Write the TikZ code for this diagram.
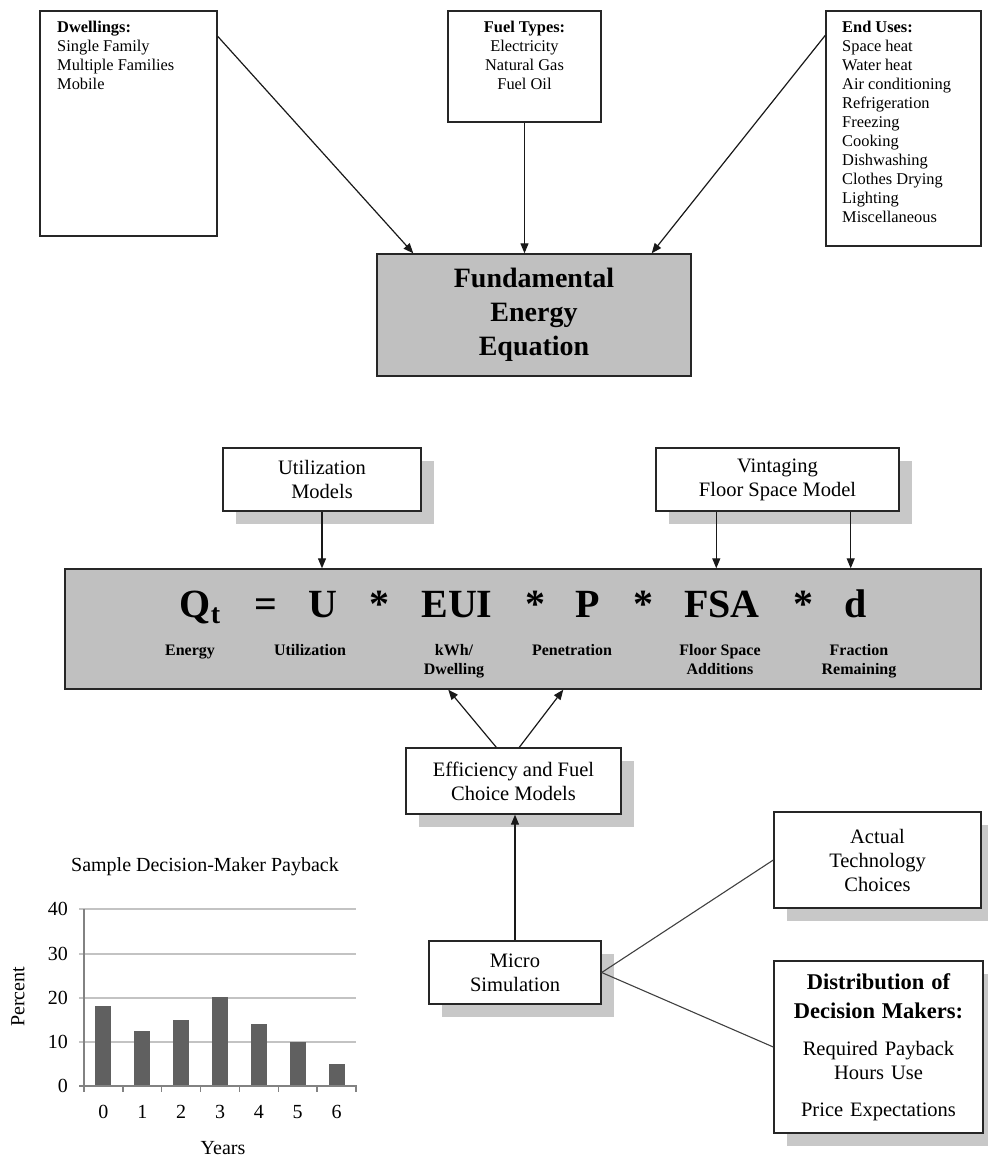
\documentclass[tikz,border=0pt]{standalone}
\usepackage{fontspec}
\setmainfont{Liberation Serif}
\usetikzlibrary{arrows.meta, shadows, positioning}
\definecolor{eqgray}{RGB}{192,192,192}
\definecolor{shadegray}{RGB}{200,200,200}
\definecolor{bargray}{RGB}{96,96,96}
\definecolor{gridgray}{RGB}{195,195,195}
\definecolor{axisgray}{RGB}{130,130,130}
\newcommand\listfs{\fontsize{16.4}{19}\selectfont}
\newcommand\modelfs{\fontsize{20.5}{24}\selectfont}
\newcommand\fundfs{\fontsize{28}{34}\selectfont}
\newcommand\symfs{\fontsize{40}{44}\selectfont}
\newcommand\lblfs{\fontsize{16}{19}\selectfont}
\newcommand\chartfs{\fontsize{20}{24}\selectfont}
\tikzset{
    listbox/.style={draw=black!85, line width=1.4pt, fill=white, inner sep=0pt},
    listtext/.style={inner sep=0pt, font=\listfs},
    fundbox/.style={draw=black!85, line width=1.4pt, fill=eqgray, align=center, font=\fundfs\bfseries, inner sep=0pt},
    modelbox/.style={draw=black!85, line width=1.4pt, fill=white, align=center, font=\modelfs, inner sep=0pt,
        drop shadow={shadow xshift=13pt, shadow yshift=-13pt, fill=shadegray, opacity=1}},
    eqsym/.style={anchor=base, font=\symfs\bfseries, inner sep=0pt},
    eqlbl/.style={anchor=base, font=\lblfs\bfseries, align=center, inner sep=0pt},
    flow/.style={-{Triangle[length=10pt, width=8pt]}, line width=1.2pt, draw=black!90},
    link/.style={line width=1.1pt, draw=black!75},
}
\begin{document}
\begin{tikzpicture}[x=1pt, y=-1pt]
    \useasboundingbox (0,0) rectangle (988,1157);
    % inputs
    \node[listbox, minimum width=177pt, minimum height=225pt] (dwell) at (128.5,123.5) {};
    \node[listbox, minimum width=153pt, minimum height=111pt] (fuel) at (524.5,66.5) {};
    \node[listbox, minimum width=155pt, minimum height=235pt] (enduse) at (903.5,128.5) {};
    \node[listtext, anchor=north west, align=left] (dwelltxt) at (57,21) {\textbf{Dwellings:}\\Single Family\\Multiple Families\\Mobile};
    \node[listtext, anchor=north, align=center] (fueltxt) at (524.5,21) {\textbf{Fuel Types:}\\Electricity\\Natural Gas\\Fuel Oil};
    \node[listtext, anchor=north west, align=left] (endusetxt) at (842,21) {\textbf{End Uses:}\\Space heat\\Water heat\\Air conditioning\\Refrigeration\\Freezing\\Cooking\\Dishwashing\\Clothes Drying\\Lighting\\Miscellaneous};
    \node[fundbox, minimum width=314pt, minimum height=122pt] (fund) at (534,315) {Fundamental\\Energy\\Equation};
    \draw[flow] ([yshift=-26pt]dwell.north east) -- ([xshift=37pt]fund.north west);
    \draw[flow] (fuel.south) -- (fuel.south |- fund.north);
    \draw[flow] ([yshift=-25pt]enduse.north west) -- ([xshift=-40pt]fund.north east);
    % equation
    \node[modelbox, minimum width=198pt, minimum height=63pt] (util) at (322,479.5) {Utilization\\Models};
    \node[modelbox, minimum width=243pt, minimum height=63pt] (vint) at (777.5,479.5) {Vintaging\\Floor Space Model};
    \node[fundbox, minimum width=916pt, minimum height=120pt] (eq) at (523,629) {};
    \node[eqsym] (qt) at (200,617) {Q\raisebox{-6pt}{\fontsize{28}{28}\selectfont t}};
    \node[eqsym] (eqsign) at (266,617) {=};
    \node[eqsym] (u) at (323,617) {U};
    \node[eqsym] (star1) at (379,617) {*};
    \node[eqsym] (eui) at (457,617) {EUI};
    \node[eqsym] (star2) at (535,617) {*};
    \node[eqsym] (p) at (588,617) {P};
    \node[eqsym] (star3) at (643,617) {*};
    \node[eqsym] (fsa) at (722,617) {FSA};
    \node[eqsym] (star4) at (803,617) {*};
    \node[eqsym] (d) at (856,617) {d};
    \node[eqlbl] (lenergy) at (190,655) {Energy};
    \node[eqlbl] (lutil) at (310,655) {Utilization};
    \node[eqlbl] (lkwh) at (454,674) {kWh/\\Dwelling};
    \node[eqlbl] (lpen) at (572,655) {Penetration};
    \node[eqlbl] (lfsa) at (720,674) {Floor Space\\ Additions};
    \node[eqlbl] (lfrac) at (859,674) {Fraction\\Remaining};
    \draw[flow] (util.south) -- (util.south |- eq.north);
    \coordinate (vintA) at ([xshift=61pt]vint.south west);
    \coordinate (vintB) at ([xshift=-49pt]vint.south east);
    \draw[flow] (vintA) -- (vintA |- eq.north);
    \draw[flow] (vintB) -- (vintB |- eq.north);
    % choice models
    \node[modelbox, minimum width=215pt, minimum height=66pt] (eff) at (513.5,781) {Efficiency and Fuel\\Choice Models};
    \node[modelbox, minimum width=172pt, minimum height=63pt] (micro) at (515,972.5) {Micro\\Simulation};
    \node[modelbox, minimum width=207pt, minimum height=96pt] (actual) at (877.5,860) {Actual\\Technology\\Choices};
    \node[modelbox, minimum width=209pt, minimum height=172pt, text width=205pt] (distrib) at (878.5,1047)
        {{\fontsize{22.5}{29}\selectfont\bfseries Distribution of\\Decision Makers:\par}\vspace{13pt}Required Payback\\Hours Use\par\vspace{13pt}Price Expectations};
    \coordinate (effA) at ([xshift=91pt]eff.north west);
    \coordinate (effB) at ([xshift=114pt]eff.north west);
    \coordinate (eqA) at ([xshift=384pt]eq.south west);
    \coordinate (eqB) at ([xshift=499pt]eq.south west);
    \draw[flow] (effA) -- (eqA);
    \draw[flow] (effB) -- (eqB);
    \draw[flow] (micro.north) -- (micro.north |- eff.south);
    \draw[link] (micro.east) -- (actual.west);
    \draw[link] (micro.east) -- (distrib.west);
    % payback chart
    \begin{scope}[font=\chartfs]
    \def\bw{38.86}
    \node (ctitle) at (205,867) {Sample Decision-Maker Payback};
    \foreach \yv/\yy in {40/909, 30/954, 20/998, 10/1042} {
        \draw[gridgray, line width=1.5pt] (79,\yy) -- (356,\yy);
        \node[anchor=east, inner sep=0pt] (ylab\yv) at (68,\yy) {\yv};
    }
    \node[anchor=east, inner sep=0pt] (ylab0) at (68,1086) {0};
    \foreach \i/\v in {0/18, 1/12.5, 2/15, 3/20, 4/14, 5/10, 6/5} {
        \fill[bargray] ({84+(\i+0.5)*\bw-8}, 1086) rectangle ({84+(\i+0.5)*\bw+8}, {1086-\v*4.43});
        \node[inner sep=0pt] (xlab\i) at ({84+(\i+0.5)*\bw}, 1112) {\i};
    }
    \draw[axisgray, line width=2pt] (84,909) -- (84,1086);
    \draw[axisgray, line width=2pt] (79,1086) -- (357,1086);
    \foreach \k in {0,...,7}
        \draw[axisgray, line width=1.5pt] ({84+\k*\bw}, 1086) -- ({84+\k*\bw}, 1092);
    \node (xtitle) at (223,1148) {Years};
    \node[rotate=90] (ytitle) at (18,997) {Percent};
    \end{scope}
\end{tikzpicture}
\end{document}
